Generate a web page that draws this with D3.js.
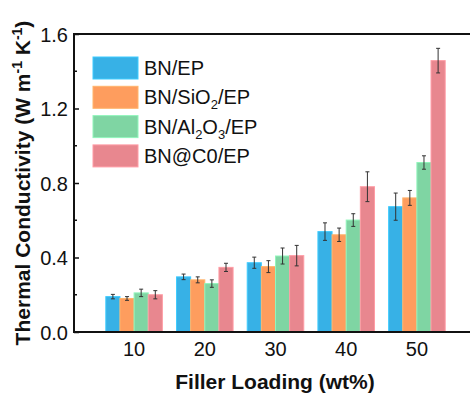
<!DOCTYPE html>
<html>
<head>
<meta charset="utf-8">
<script src="https://cdn.jsdelivr.net/npm/d3@7"></script>
<style>
  body { margin: 0; background: #fff; }
  svg text { font-family: Arial, "Liberation Sans", sans-serif; fill: #111; }
</style>
</head>
<body>
<div id="chart"></div>
<script>
// data
const loadings = ["10", "20", "30", "40", "50"];
const seriesNames = ["BN/EP", "BN/SiO2/EP", "BN/Al2O3/EP", "BN@C0/EP"];
const colors = ["#37b1e6", "#fe9d5e", "#7fd5a3", "#e8878f"];
const bnEP = [0.19, 0.296, 0.372, 0.539, 0.673];
const bnSiO2 = [0.18, 0.28, 0.351, 0.522, 0.72];
const bnAl2O3 = [0.21, 0.26, 0.408, 0.601, 0.91];
const bnC0 = [0.20, 0.347, 0.41, 0.78, 1.457];
const errEP = [0.012, 0.015, 0.03, 0.047, 0.073];
const errSiO2 = [0.01, 0.016, 0.032, 0.036, 0.04];
const errAl2O3 = [0.02, 0.02, 0.043, 0.034, 0.036];
const errC0 = [0.022, 0.022, 0.055, 0.08, 0.066];
const yTicks = [0, 0.4, 0.8, 1.2, 1.6];

const values = [bnEP, bnSiO2, bnAl2O3, bnC0];
const errors = [errEP, errSiO2, errAl2O3, errC0];

const W = 470, H = 398;
const margin = {top: 34, left: 74, bottom: 66};
const plotRight = 477; // frame runs off the right edge of the image

const svg = d3.select("#chart").append("svg")
    .attr("width", W)
    .attr("height", H);

const x = d3.scaleBand()
    .domain(loadings)
    .range([margin.left, plotRight])
    .paddingInner(0.2)
    .paddingOuter(0.45);

const xs = d3.scaleBand()
    .domain(d3.range(seriesNames.length))
    .range([0, x.bandwidth()]);

const y = d3.scaleLinear()
    .domain([0, 1.6])
    .range([H - margin.bottom, margin.top]);

// bars
const groups = svg.append("g").selectAll("g")
    .data(seriesNames)
    .join("g");

groups.each(function(name, si) {
  const g = d3.select(this);
  g.selectAll("rect")
      .data(values[si])
      .join("rect")
      .attr("x", (d, i) => x(loadings[i]) + xs(si))
      .attr("y", (d) => y(d))
      .attr("width", xs.bandwidth())
      .attr("height", (d) => y(0) - y(d))
      .attr("fill", colors[si])
      .attr("stroke", d3.color(colors[si]).brighter(0.4))
      .attr("stroke-width", 1);

  // error bars
  const eb = g.selectAll(".eb")
      .data(values[si])
      .join("g")
      .attr("class", "eb")
      .attr("transform", (d, i) => `translate(${x(loadings[i]) + xs(si) + xs.bandwidth() / 2},0)`);
  eb.append("line")
      .attr("y1", (d, i) => y(d - errors[si][i]))
      .attr("y2", (d, i) => y(d + errors[si][i]))
      .attr("stroke", "#333").attr("stroke-width", 1);
  eb.append("line")
      .attr("x1", -2).attr("x2", 2)
      .attr("y1", (d, i) => y(d + errors[si][i]))
      .attr("y2", (d, i) => y(d + errors[si][i]))
      .attr("stroke", "#333").attr("stroke-width", 1);
  eb.append("line")
      .attr("x1", -2).attr("x2", 2)
      .attr("y1", (d, i) => y(d - errors[si][i]))
      .attr("y2", (d, i) => y(d - errors[si][i]))
      .attr("stroke", "#333").attr("stroke-width", 1);
});

// axes
const yAxis = svg.append("g")
    .attr("transform", `translate(${margin.left},0)`)
    .call(d3.axisLeft(y).tickValues(yTicks).tickFormat(d3.format(".1f")).tickSizeInner(-5).tickSizeOuter(0).tickPadding(6));
yAxis.select(".domain").remove();
yAxis.selectAll("text").style("font-size", "20px").attr("dy", "0.35em");
yAxis.selectAll("line").attr("stroke", "#111").attr("stroke-width", 1.5);

// minor ticks
svg.append("g").selectAll("line")
    .data(d3.range(0.2, 1.6, 0.4))
    .join("line")
    .attr("x1", margin.left).attr("x2", margin.left + 3)
    .attr("y1", (d) => y(d)).attr("y2", (d) => y(d))
    .attr("stroke", "#111").attr("stroke-width", 1.5);

const xAxis = svg.append("g")
    .attr("transform", `translate(0,${y(0)})`)
    .call(d3.axisBottom(x).tickSize(0).tickPadding(10));
xAxis.select(".domain").remove();
xAxis.selectAll("text").style("font-size", "20px").attr("dy", "0.71em");

// frame
svg.append("path")
    .attr("d", `M${plotRight},${margin.top}H${margin.left}V${y(0)}H${plotRight}`)
    .attr("fill", "none")
    .attr("stroke", "#111")
    .attr("stroke-width", 2);

// axis titles
svg.append("text")
    .attr("x", 275)
    .attr("y", 389)
    .attr("text-anchor", "middle")
    .style("font-size", "21px")
    .style("font-weight", "bold")
    .text("Filler Loading (wt%)");

const yt = svg.append("text")
    .attr("transform", `translate(30,${(margin.top + y(0)) / 2}) rotate(-90)`)
    .attr("text-anchor", "middle")
    .style("font-size", "21px")
    .style("font-weight", "bold");
yt.append("tspan").text("Thermal Conductivity (W m");
yt.append("tspan").attr("dy", -8).style("font-size", "14px").text("-1");
yt.append("tspan").attr("dy", 8).text(" K");
yt.append("tspan").attr("dy", -8).style("font-size", "14px").text("-1");
yt.append("tspan").attr("dy", 8).text(")");

// legend
const legend = svg.append("g").attr("transform", "translate(93,57)");
const items = legend.selectAll("g")
    .data(seriesNames)
    .join("g")
    .attr("transform", (d, i) => `translate(0,${i * 29.3})`);
items.append("rect")
    .attr("width", 45).attr("height", 22)
    .attr("fill", (d, i) => colors[i])
    .attr("stroke", (d, i) => d3.color(colors[i]).brighter(0.4));
items.each(function(d) {
  const t = d3.select(this).append("text")
      .attr("x", 51).attr("y", 18)
      .style("font-size", "20px");
  const parts = d === "BN@C0/EP" ? [d] : d.split(/(\d)/).filter((p) => p);
  let shift = 0;
  parts.forEach((p) => {
    const sub = /^\d$/.test(p);
    const dy = sub ? 5 - shift : -shift;
    shift = sub ? 5 : 0;
    const ts = t.append("tspan").attr("dy", dy).text(p);
    if (sub) ts.style("font-size", "13px");
  });
});
</script>
</body>
</html>
